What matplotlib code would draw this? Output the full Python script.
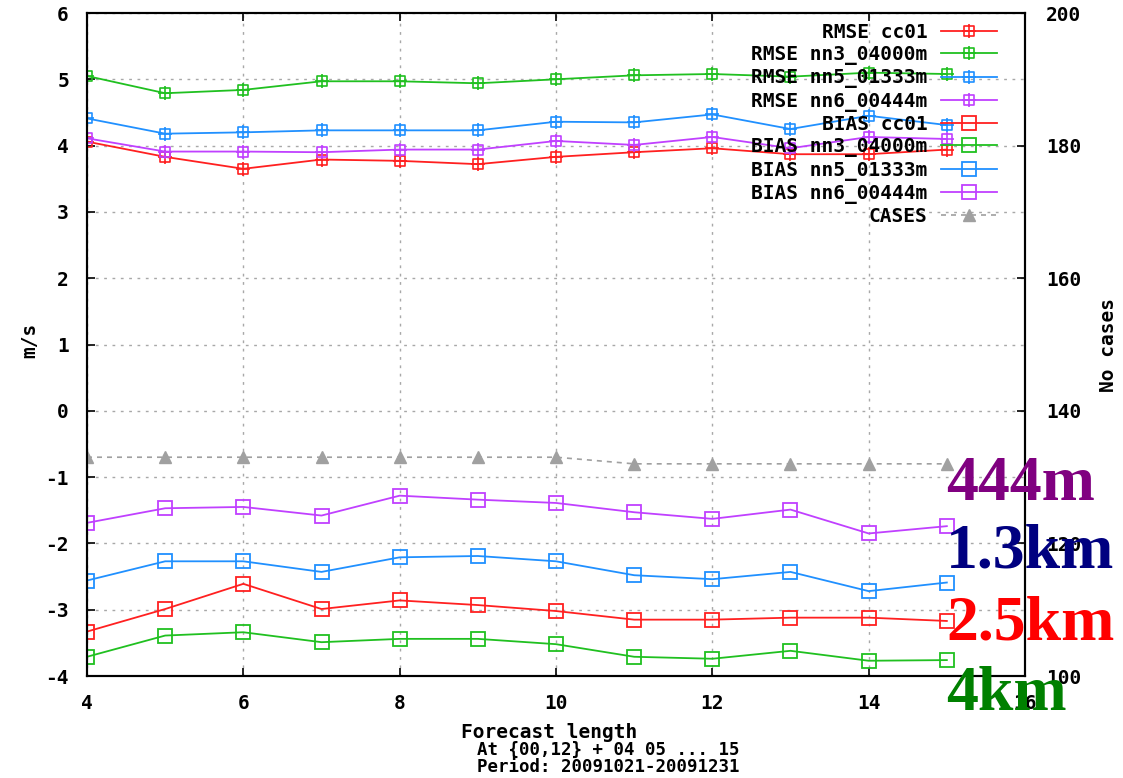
import matplotlib
matplotlib.use("Agg")
import matplotlib.pyplot as plt
from matplotlib.path import Path
import numpy as np

plt.rcParams['axes.unicode_minus'] = False

forecast = [4, 5, 6, 7, 8, 9, 10, 11, 12, 13, 14, 15]

rmse_cc01 = [4.06, 3.83, 3.65, 3.79, 3.77, 3.72, 3.83, 3.90, 3.96, 3.87, 3.87, 3.94]
rmse_nn3 = [5.05, 4.79, 4.84, 4.97, 4.97, 4.94, 5.00, 5.06, 5.08, 5.04, 5.10, 5.08]
rmse_nn5 = [4.41, 4.18, 4.20, 4.23, 4.23, 4.23, 4.36, 4.35, 4.47, 4.25, 4.45, 4.31]
rmse_nn6 = [4.11, 3.91, 3.91, 3.90, 3.94, 3.94, 4.07, 4.01, 4.13, 3.96, 4.13, 4.10]

bias_cc01 = [-3.33, -2.99, -2.61, -2.99, -2.86, -2.93, -3.02, -3.15, -3.15, -3.12, -3.12, -3.17]
bias_nn3 = [-3.71, -3.39, -3.34, -3.49, -3.44, -3.44, -3.52, -3.71, -3.74, -3.62, -3.77, -3.76]
bias_nn5 = [-2.56, -2.27, -2.27, -2.43, -2.21, -2.19, -2.27, -2.48, -2.54, -2.43, -2.72, -2.59]
bias_nn6 = [-1.69, -1.47, -1.45, -1.58, -1.28, -1.34, -1.39, -1.53, -1.63, -1.49, -1.85, -1.74]

cases = [133, 133, 133, 133, 133, 133, 133, 132, 132, 132, 132, 132]

labels_rmse = ["RMSE cc01", "RMSE nn3_04000m", "RMSE nn5_01333m", "RMSE nn6_00444m"]
labels_bias = ["BIAS cc01", "BIAS nn3_04000m", "BIAS nn5_01333m", "BIAS nn6_00444m"]
colors = ["#ff2020", "#20c020", "#2090ff", "#c040ff"]

annot_labels = ["444m", "1.3km", "2.5km", "4km"]
annot_colors = ["#800080", "#000080", "#ff0000", "#008000"]

# boxed-plus marker
verts = [(-0.65, -0.65), (0.65, -0.65), (0.65, 0.65), (-0.65, 0.65), (-0.65, -0.65),
         (0, -1), (0, 1), (-1, 0), (1, 0)]
codes = [Path.MOVETO, Path.LINETO, Path.LINETO, Path.LINETO, Path.CLOSEPOLY,
         Path.MOVETO, Path.LINETO, Path.MOVETO, Path.LINETO]
boxplus = Path(verts, codes)

mono = "DejaVu Sans Mono"
fs = 14

fig = plt.figure(figsize=(11.23, 7.78), dpi=100)
ax = fig.add_axes([87/1123, 1 - 676/778, (1025-87)/1123, (676-13)/778])
ax2 = ax.twinx()

handles = []
for vals, lab, c in zip([rmse_cc01, rmse_nn3, rmse_nn5, rmse_nn6], labels_rmse, colors):
    h, = ax.plot(forecast, vals, color=c, lw=1.3, marker=boxplus, ms=10,
                 mfc='none', mec=c, mew=1.2, label=lab)
    handles.append(h)
for vals, lab, c in zip([bias_cc01, bias_nn3, bias_nn5, bias_nn6], labels_bias, colors):
    h, = ax.plot(forecast, vals, color=c, lw=1.3, marker='s', ms=10,
                 mfc='none', mec=c, mew=1.3, label=lab)
    handles.append(h)
hc, = ax2.plot(forecast, cases, color="#a0a0a0", lw=1.2, ls=(0, (3, 3)),
               marker='^', ms=9, mfc="#a0a0a0", mec="#a0a0a0", label="CASES")
handles.append(hc)

ax.set_xlim(4, 16)
ax.set_ylim(-4, 6)
ax2.set_ylim(100, 200)
ax.set_xticks([4, 6, 8, 10, 12, 14, 16])
ax.set_yticks(range(-4, 7))
ax2.set_yticks(range(100, 201, 20))

ax.grid(True, color="#a8a8a8", ls=(0, (2, 4)), lw=1.0)
ax.tick_params(axis='both', direction='in', length=6, width=1.2,
               labelsize=fs, top=True, right=False)
ax.tick_params(axis='x', pad=13)
ax.tick_params(axis='y', pad=13)
ax2.tick_params(axis='y', direction='in', length=6, width=1.2, labelsize=fs, pad=15)
for a in (ax, ax2):
    for lbl in a.get_xticklabels() + a.get_yticklabels():
        lbl.set_fontfamily(mono)
        lbl.set_fontweight('bold')
    for s in a.spines.values():
        s.set_linewidth(1.5)

leg = ax2.legend(handles=handles, loc='upper right', frameon=False,
                 markerfirst=False, prop={'family': mono, 'weight': 'bold', 'size': fs},
                 handlelength=2.9, handletextpad=0.7, labelspacing=0.17,
                 borderaxespad=0.0, borderpad=0.5,
                 bbox_to_anchor=((1007 - 87) / 938, 1.0))

fig.text(461/1123, 1 - 733/778, "Forecast length", family=mono, weight='bold',
         size=fs, ha='left', va='center')
fig.text(477/1123, 1 - 750/778, "At {00,12} + 04 05 ... 15", family=mono, weight='bold',
         size=12.5, ha='left', va='center')
fig.text(477/1123, 1 - 767/778, "Period: 20091021-20091231", family=mono, weight='bold',
         size=12.5, ha='left', va='center')
fig.text(30/1123, 1 - 340/778, "m/s", family=mono, weight='bold', size=fs,
         rotation=90, ha='center', va='center')
fig.text(1108/1123, 1 - 345/778, "No cases", family=mono, weight='bold', size=fs,
         rotation=90, ha='center', va='center')

annot_y = [485, 553, 625, 695]
for t, c, y in zip(annot_labels, annot_colors, annot_y):
    fig.text(946/1123, 1 - y/778, t, family="Liberation Serif", weight='bold',
             size=46, color=c, ha='left', va='center')

fig.savefig("out.png", dpi=100)
